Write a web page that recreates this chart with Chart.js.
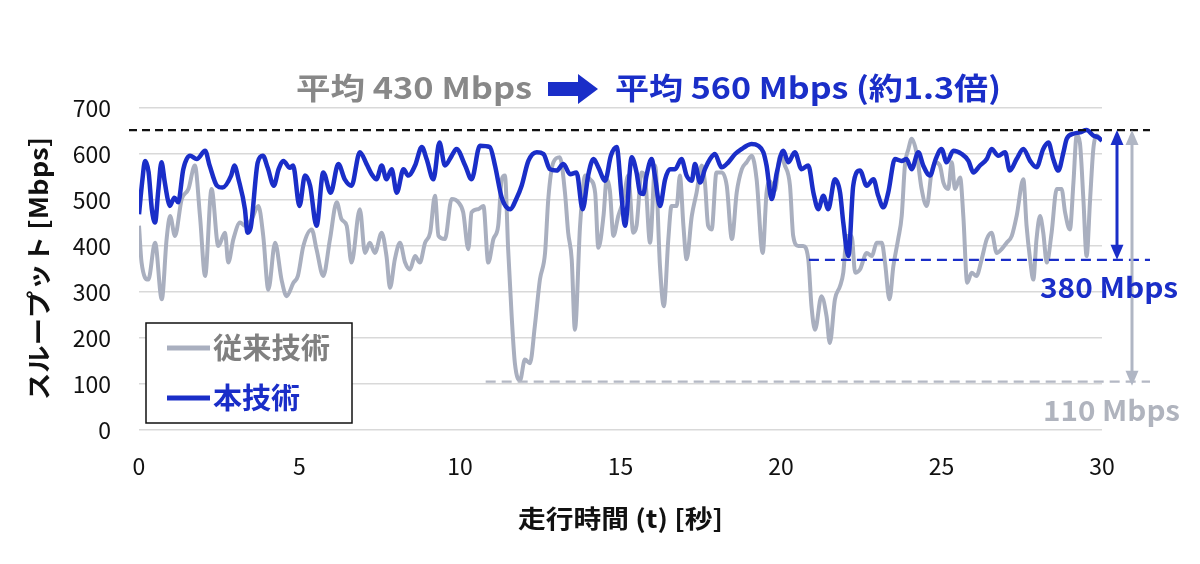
<!DOCTYPE html>
<html>
<head>
<meta charset="utf-8">
<script src="https://cdn.jsdelivr.net/npm/chart.js@4.4.1/dist/chart.umd.min.js"></script>
<style>
  html, body { margin: 0; padding: 0; background: #fff; }
  #wrap { width: 1200px; height: 564px; }
</style>
</head>
<body>
<div id="wrap"><canvas id="chart"></canvas></div>
<script>
// 走行時間 [秒] と スループット [Mbps]
const newTech = [
  [0,469],[0.1,540],[0.19,585],[0.3,560],[0.4,480],[0.5,451],[0.6,520],[0.7,582],[0.8,540],[0.9,500],
  [0.96,487],[1.1,505],[1.22,495],[1.38,567],[1.59,596],[1.8,589],[2.06,607],[2.2,575],[2.43,531],[2.6,527],
  [2.87,553],[2.97,575],[3.1,545],[3.3,480],[3.38,429],[3.48,440],[3.7,582],[3.86,596],[4.01,570],[4.2,531],
  [4.35,567],[4.5,585],[4.7,570],[4.8,575],[5.0,487],[5.17,553],[5.33,531],[5.53,444],[5.74,560],[5.97,516],
  [6.21,578],[6.41,545],[6.62,531],[6.88,604],[7.09,578],[7.25,556],[7.4,545],[7.56,575],[7.71,545],[7.87,567],
  [8.03,516],[8.24,567],[8.39,553],[8.6,575],[8.81,615],[8.96,589],[9.17,545],[9.36,625],[9.53,575],[9.74,596],
  [9.89,611],[10.16,575],[10.36,545],[10.62,618],[10.93,615],[11.09,575],[11.3,505],[11.56,480],[11.77,505],[11.92,531],
  [12.13,585],[12.39,604],[12.6,600],[12.8,567],[13.01,564],[13.22,578],[13.43,556],[13.63,560],[13.82,480],[14.0,556],
  [14.16,589],[14.31,571],[14.52,542],[14.7,596],[14.88,615],[15.04,502],[15.14,444],[15.35,593],[15.5,560],[15.61,516],
  [15.71,513],[15.81,553],[15.97,589],[16.07,553],[16.23,487],[16.39,545],[16.54,567],[16.7,567],[16.9,589],[17.06,553],
  [17.22,542],[17.32,578],[17.48,538],[17.63,567],[17.79,589],[17.94,600],[18.15,571],[18.36,582],[18.57,600],[18.78,611],
  [18.93,618],[19.08,622],[19.29,618],[19.45,604],[19.55,575],[19.71,502],[19.87,560],[20.07,607],[20.23,582],[20.43,604],
  [20.64,567],[20.85,575],[21.01,516],[21.16,480],[21.32,509],[21.47,480],[21.68,545],[21.84,516],[21.94,451],[22.1,378],
  [22.25,531],[22.46,564],[22.67,531],[22.88,545],[23.03,509],[23.19,484],[23.34,516],[23.55,589],[23.76,585],[23.91,589],
  [24.07,567],[24.28,604],[24.43,575],[24.64,553],[24.82,589],[25.0,611],[25.16,582],[25.37,607],[25.63,600],[25.84,585],
  [25.99,560],[26.2,575],[26.41,589],[26.56,611],[26.77,596],[26.98,604],[27.13,564],[27.34,589],[27.55,611],[27.76,585],
  [27.96,571],[28.17,611],[28.33,625],[28.48,589],[28.64,564],[28.8,604],[28.9,633],[29.11,644],[29.31,647],[29.52,652],
  [29.73,640],[29.88,636],[30.0,629]
];

const oldTech = [
  [0,444],[0.08,364],[0.29,327],[0.5,407],[0.71,284],[0.86,415],[0.97,465],[1.12,422],[1.33,502],[1.54,524],
  [1.74,575],[1.9,465],[2.06,335],[2.26,524],[2.47,400],[2.68,429],[2.78,364],[2.94,415],[3.15,451],[3.3,444],
  [3.51,458],[3.72,487],[3.87,422],[4.03,305],[4.24,407],[4.44,327],[4.6,291],[4.81,320],[4.95,335],[5.12,400],
  [5.38,436],[5.53,393],[5.74,335],[5.95,415],[6.16,495],[6.31,458],[6.47,444],[6.62,364],[6.88,480],[7.04,385],
  [7.19,407],[7.35,385],[7.56,429],[7.71,378],[7.82,309],[7.97,371],[8.13,407],[8.29,364],[8.44,349],[8.6,378],
  [8.75,364],[8.91,407],[9.07,429],[9.22,509],[9.33,422],[9.53,415],[9.74,502],[9.95,495],[10.1,473],[10.26,393],
  [10.36,473],[10.57,480],[10.73,487],[10.88,364],[11.04,415],[11.19,444],[11.3,545],[11.4,553],[11.5,393],[11.61,247],
  [11.71,145],[11.87,108],[12.02,153],[12.18,145],[12.33,225],[12.49,327],[12.65,385],[12.75,502],[12.91,582],[13.11,593],
  [13.27,516],[13.37,429],[13.48,371],[13.58,218],[13.74,444],[13.9,553],[14.05,545],[14.21,516],[14.31,396],[14.47,465],
  [14.57,545],[14.67,520],[14.78,422],[14.93,465],[15.09,500],[15.24,553],[15.4,429],[15.5,444],[15.66,560],[15.77,545],
  [15.92,407],[16.08,575],[16.23,356],[16.35,269],[16.49,415],[16.59,487],[16.75,487],[16.85,553],[16.96,444],[17.06,371],
  [17.22,465],[17.37,516],[17.53,575],[17.63,538],[17.73,444],[17.84,436],[17.99,560],[18.15,560],[18.31,531],[18.47,415],
  [18.62,516],[18.78,567],[18.93,582],[19.09,596],[19.24,545],[19.43,385],[19.55,516],[19.66,540],[19.81,520],[19.97,596],
  [20.12,575],[20.28,531],[20.38,422],[20.54,400],[20.69,400],[20.85,371],[20.95,269],[21.06,218],[21.26,291],[21.42,247],
  [21.52,189],[21.68,284],[21.84,313],[21.94,342],[22.05,422],[22.2,422],[22.31,342],[22.46,349],[22.67,385],[22.83,378],
  [22.98,407],[23.14,407],[23.24,364],[23.38,284],[23.5,356],[23.65,415],[23.76,465],[23.86,575],[23.97,611],[24.07,633],
  [24.23,600],[24.38,524],[24.54,487],[24.69,560],[24.8,582],[24.95,575],[25.06,538],[25.21,524],[25.32,582],[25.42,524],
  [25.58,549],[25.68,465],[25.8,320],[25.94,342],[26.09,335],[26.25,371],[26.41,415],[26.56,429],[26.72,385],[26.87,393],
  [27.03,407],[27.19,422],[27.34,465],[27.55,545],[27.65,444],[27.76,371],[27.86,327],[27.96,415],[28.07,465],[28.17,429],
  [28.28,364],[28.43,429],[28.59,524],[28.74,524],[28.85,473],[29.0,436],[29.11,538],[29.21,640],[29.31,625],[29.42,502],
  [29.52,378],[29.63,502],[29.73,611],[29.84,640],[29.94,633]
];

const seriesNames = ["従来技術", "本技術"];
const yTicks = [0, 100, 200, 300, 400, 500, 600, 700];
const xTicks = [0, 5, 10, 15, 20, 25, 30];

// 注記（最大値と最小値）
const peakLevel = 652;
const newMinLevel = 370;
const oldMinLevel = 105;
const newMinFrom = 20.87;
const oldMinFrom = 10.8;
const newMinText = "380 Mbps";
const oldMinText = "110 Mbps";
const titleOld = "平均 430 Mbps";
const titleNew = "平均 560 Mbps (約1.3倍)";

const BLUE = "#1a2ec8";
const GRAY = "#a9afbf";
const JP = "'Noto Sans CJK JP', 'Noto Sans', sans-serif";

// 元図の幅に合わせて横方向だけ伸ばして書く
function fitText(ctx, text, x, y, width) {
  const w = ctx.measureText(text).width;
  ctx.save();
  ctx.translate(x, y);
  ctx.scale(width / w, 1);
  ctx.fillText(text, 0, 0);
  ctx.restore();
}

function arrowHead(ctx, x, y, dir, w, h) {
  ctx.beginPath();
  ctx.moveTo(x, y);
  ctx.lineTo(x - w / 2, y - dir * h);
  ctx.lineTo(x + w / 2, y - dir * h);
  ctx.closePath();
  ctx.fill();
}

function vArrow(ctx, x, y1, y2, color) {
  ctx.save();
  ctx.strokeStyle = color;
  ctx.fillStyle = color;
  ctx.lineWidth = 3;
  ctx.beginPath();
  ctx.moveTo(x, y1 + 10);
  ctx.lineTo(x, y2 - 10);
  ctx.stroke();
  arrowHead(ctx, x, y1, -1, 13, 15);
  arrowHead(ctx, x, y2, 1, 13, 15);
  ctx.restore();
}

function hDash(ctx, x1, x2, y, color, dash) {
  ctx.save();
  ctx.strokeStyle = color;
  ctx.lineWidth = 2.2;
  ctx.setLineDash(dash);
  ctx.beginPath();
  ctx.moveTo(x1, y);
  ctx.lineTo(x2, y);
  ctx.stroke();
  ctx.restore();
}

const annotations = {
  id: "annotations",
  afterDatasetsDraw(chart) {
    const ctx = chart.ctx;
    const xs = chart.scales.x, ys = chart.scales.y;
    const lineEnd = 1150;

    hDash(ctx, xs.getPixelForValue(0) - 10, lineEnd, ys.getPixelForValue(peakLevel), "#111", [8, 5]);
    hDash(ctx, xs.getPixelForValue(newMinFrom), lineEnd, ys.getPixelForValue(newMinLevel), BLUE, [10, 6]);
    hDash(ctx, xs.getPixelForValue(oldMinFrom), lineEnd, ys.getPixelForValue(oldMinLevel), "#b4b8c4", [10, 6]);

    vArrow(ctx, 1117, ys.getPixelForValue(peakLevel), ys.getPixelForValue(newMinLevel), BLUE);
    vArrow(ctx, 1132, ys.getPixelForValue(peakLevel), ys.getPixelForValue(oldMinLevel) + 4, "#b0b6c4");

    ctx.save();
    ctx.textBaseline = "middle";
    ctx.textAlign = "left";
    ctx.font = "bold 28px " + JP;
    ctx.fillStyle = BLUE;
    fitText(ctx, newMinText, 1040, 287, 138);
    ctx.fillStyle = "#b0b4be";
    fitText(ctx, oldMinText, 1043, 410, 137);
    ctx.restore();
  },
  afterDraw(chart) {
    const ctx = chart.ctx;
    ctx.save();
    // タイトル
    ctx.textBaseline = "middle";
    ctx.textAlign = "left";
    ctx.font = "bold 30px " + JP;
    ctx.fillStyle = "#888888";
    fitText(ctx, titleOld, 296, 88, 236);
    ctx.fillStyle = BLUE;
    fitText(ctx, titleNew, 615, 88, 386);
    ctx.beginPath();
    ctx.moveTo(548, 82);
    ctx.lineTo(578, 82);
    ctx.lineTo(578, 74);
    ctx.lineTo(598, 89);
    ctx.lineTo(578, 104);
    ctx.lineTo(578, 96);
    ctx.lineTo(548, 96);
    ctx.closePath();
    ctx.fill();

    // 軸タイトル
    ctx.fillStyle = "#111";
    ctx.font = "bold 25px " + JP;
    fitText(ctx, "走行時間 (t) [秒]", 518, 518, 205);
    ctx.translate(38, 400);
    ctx.rotate(-Math.PI / 2);
    fitText(ctx, "スループット [Mbps]", 0, 0, 263);
    ctx.restore();

    // 凡例
    ctx.save();
    ctx.fillStyle = "#fff";
    ctx.fillRect(146, 323, 206, 100);
    ctx.strokeStyle = "#111";
    ctx.lineWidth = 1.5;
    ctx.strokeRect(146, 323, 206, 100);
    const rows = [[GRAY, "#808080", 348, 117], [BLUE, BLUE, 398, 87]];
    ctx.font = "bold 29px " + JP;
    ctx.textBaseline = "middle";
    ctx.textAlign = "left";
    rows.forEach((r, i) => {
      ctx.strokeStyle = r[0];
      ctx.lineWidth = 5;
      ctx.beginPath();
      ctx.moveTo(167, r[2]);
      ctx.lineTo(210, r[2]);
      ctx.stroke();
      ctx.fillStyle = r[1];
      fitText(ctx, seriesNames[i], 213, r[2], r[3]);
    });
    ctx.restore();
  }
};

const ctx = document.getElementById("chart").getContext("2d");
new Chart(ctx, {
  type: "line",
  data: {
    datasets: [
      {
        label: seriesNames[0],
        data: oldTech.map(p => ({ x: p[0], y: p[1] })),
        borderColor: GRAY,
        borderWidth: 4,
        pointRadius: 0,
        cubicInterpolationMode: "monotone",
        order: 2
      },
      {
        label: seriesNames[1],
        data: newTech.map(p => ({ x: p[0], y: p[1] })),
        borderColor: BLUE,
        borderWidth: 4.5,
        pointRadius: 0,
        cubicInterpolationMode: "monotone",
        order: 1
      }
    ]
  },
  options: {
    responsive: true,
    maintainAspectRatio: false,
    animation: false,
    layout: { padding: { top: 108, right: 98, left: 0, bottom: 0 } },
    plugins: { legend: { display: false }, tooltip: { enabled: false } },
    scales: {
      x: {
        type: "linear",
        min: 0,
        max: 30,
        afterBuildTicks: s => { s.ticks = xTicks.map(v => ({ value: v })); },
        afterFit: s => { s.height = 134; },
        grid: { display: false, drawTicks: false },
        border: { display: false },
        ticks: { color: "#111", font: { family: JP, size: 23 }, padding: 22 }
      },
      y: {
        min: 0,
        max: 700,
        afterBuildTicks: s => { s.ticks = yTicks.map(v => ({ value: v })); },
        afterFit: s => { s.width = 139; },
        grid: { color: "#d9d9d9", lineWidth: 1.5, drawTicks: false },
        border: { display: false },
        ticks: { color: "#111", font: { family: JP, size: 23 }, padding: 28 }
      }
    }
  },
  plugins: [annotations]
});
</script>
</body>
</html>
